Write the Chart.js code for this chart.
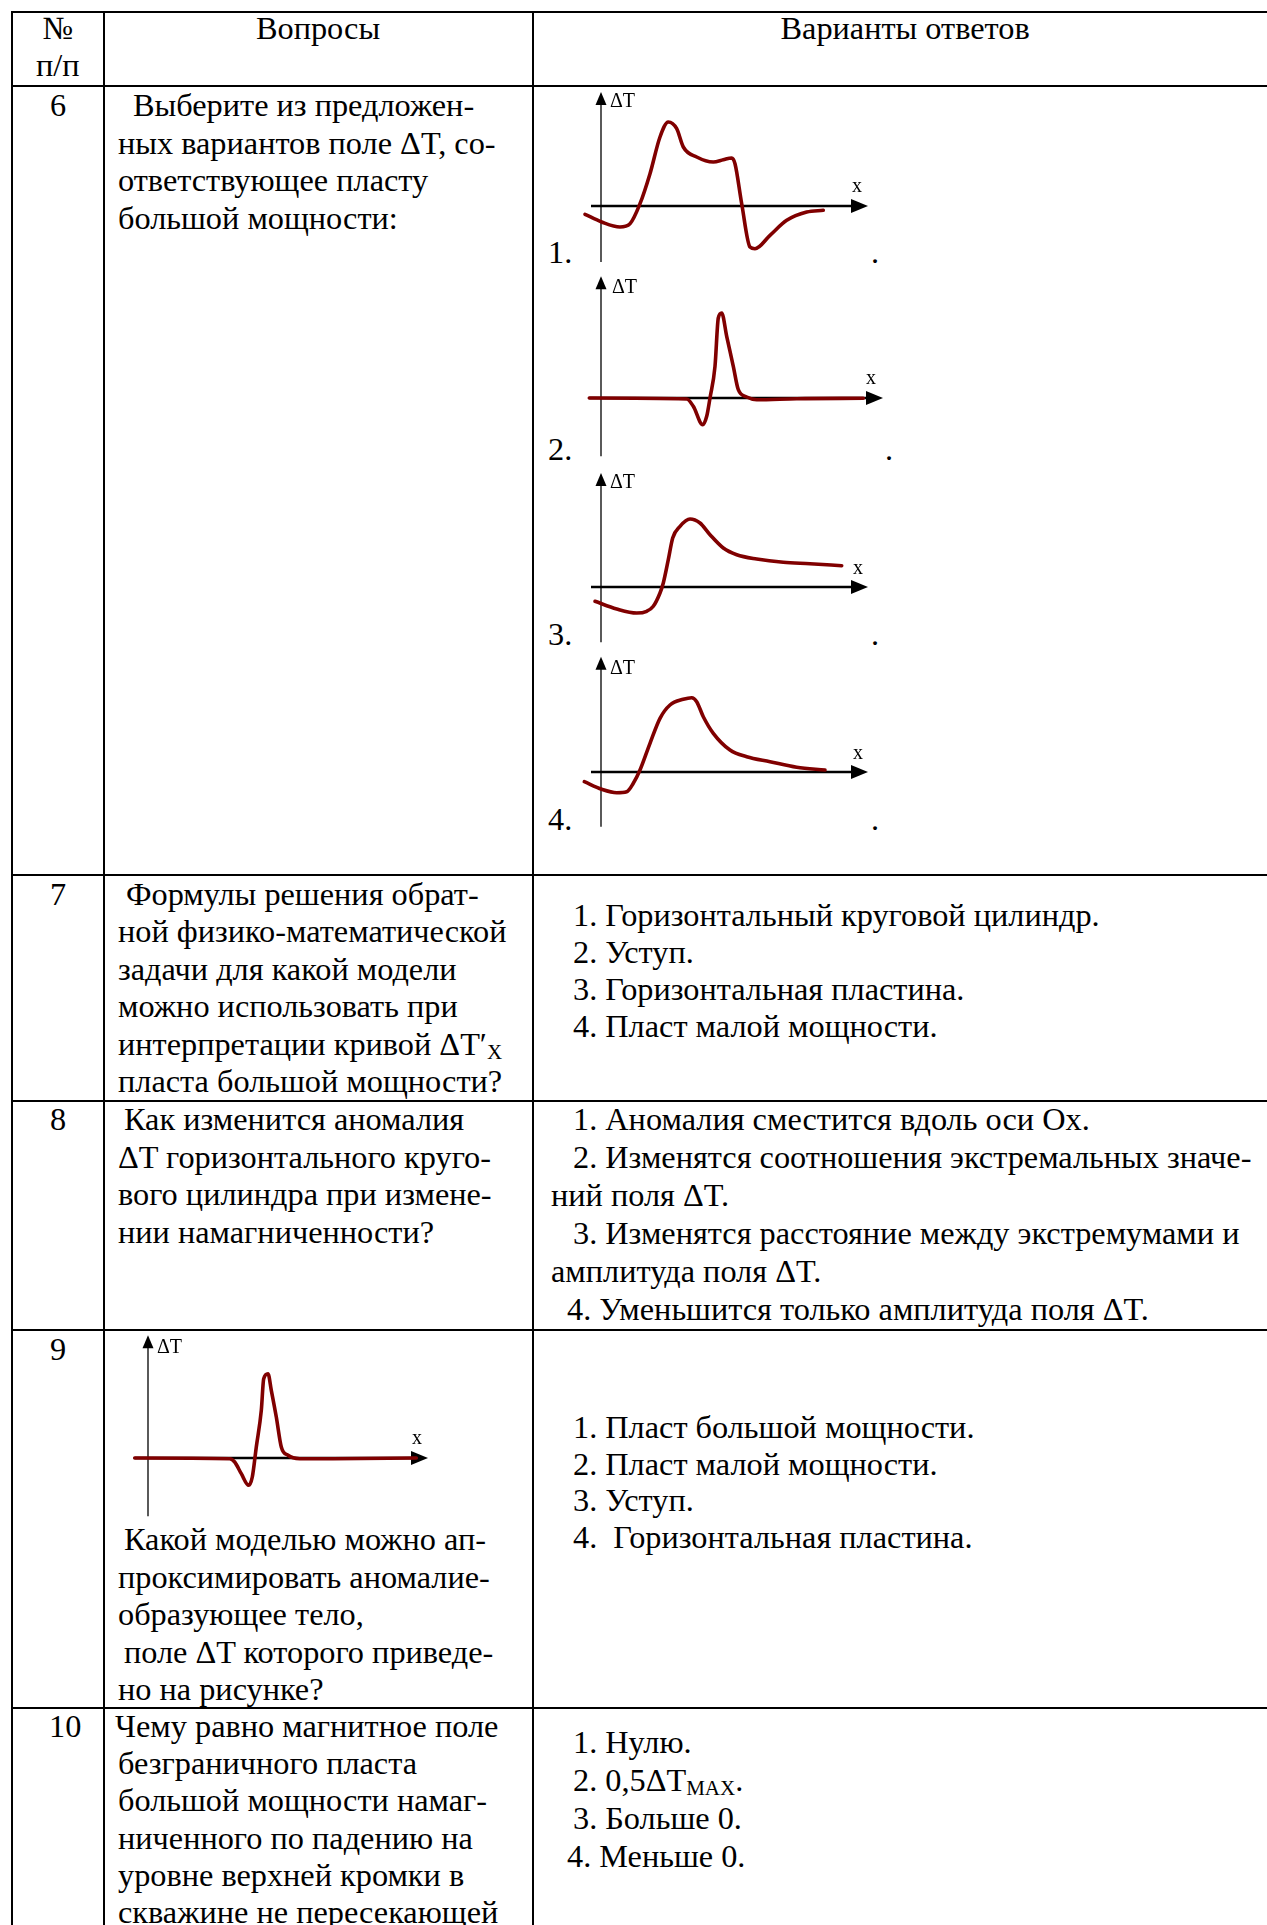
<!DOCTYPE html>
<html><head><meta charset="utf-8">
<script src="https://cdn.jsdelivr.net/npm/chart.js@4.4.1/dist/chart.umd.min.js"></script>
<style>
html,body{margin:0;padding:0;background:#fff;}
#page{position:relative;width:1267px;height:1925px;overflow:hidden;background:#fff;font-family:"Liberation Serif","Times New Roman",serif;color:#000;}
.hl{position:absolute;height:2px;background:#000;}
.vl{position:absolute;width:2px;background:#000;}
.t{position:absolute;white-space:pre;font-size:32.3px;line-height:38px;}
.t sub{font-size:21px;vertical-align:-4px;line-height:0;}
.s{position:absolute;white-space:pre;font-size:20px;line-height:22px;}
canvas{position:absolute;}
</style></head><body><div id="page"></div>
<script>
// ---- curve data (x: along profile, y: ΔT) ----
const curve1X = [-1.6,0.07,1.9,2.9,3.9,4.9,5.9,6.73,7.57,8.23,9.57,11.23,12.23,13.07,13.4,14.07,14.9,15.4,16.9,18.57,20.57,22.23];
const curve1Y = [-0.83,-1.6,-2.1,-1.77,0.23,3.23,6.9,8.4,7.73,5.9,4.9,4.4,4.63,4.8,4.23,0.23,-4.1,-4.27,-2.93,-1.43,-0.6,-0.43];

const curve2X = [-1.17,8.57,9.23,10.17,10.57,10.9,11.4,11.73,12.07,12.57,13.23,13.73,14.57,15.57,19.57,26.23];
const curve2Y = [0,-0.1,-0.83,-2.67,-1.83,0,3.17,8.0,8.5,6.17,3.17,0.83,0.1,-0.17,-0.07,-0.03];

const curve3X = [-0.6,1.57,3.57,4.57,5.23,5.9,6.23,6.73,7.17,7.9,8.9,9.9,10.9,12.23,13.57,15.57,18.23,20.9,24.07];
const curve3Y = [-1.43,-2.2,-2.6,-2.43,-1.93,-0.6,0.4,2.73,4.9,6.07,6.8,6.4,5.23,3.9,3.23,2.8,2.47,2.33,2.13];

const curve4X = [-1.67,0.07,1.57,2.57,3.23,3.9,4.9,5.9,6.9,8.23,9.07,9.57,10.23,11.23,12.9,14.57,16.9,19.57,22.4];
const curve4Y = [-0.97,-1.73,-2.07,-1.97,-1.13,0.2,2.87,5.37,6.7,7.27,7.43,7.03,5.53,3.87,2.2,1.53,1.03,0.47,0.2];

const curve9X = [-1.33,8.17,8.67,9.33,10.07,10.43,10.83,11.33,11.57,12.0,12.33,12.83,13.33,14.0,15.17,18.5,26.83];
const curve9Y = [0,-0.07,-0.4,-1.57,-2.73,-1.9,1.1,4.77,7.93,8.43,6.77,4.1,1.1,0.27,-0.07,-0.07,0];

// axis extents [xFrom, xTo, yFrom, yTo] in the same units
const axes1 = [-1.0,26.7,-5.6,11.4];
const axes2 = [-1.17,28.2,-5.83,12.17];
const axes3 = [-1.0,26.7,-5.53,11.4];
const axes4 = [-1.0,26.7,-5.47,11.53];
const axes9 = [-1.33,28.0,-5.83,12.27];

const page = document.getElementById('page');

// ---- table grid ----
function hl(x,y,w){const d=document.createElement('div');d.className='hl';d.style.left=x+'px';d.style.top=(y-1)+'px';d.style.width=w+'px';page.appendChild(d);}
function vl(x,y,h){const d=document.createElement('div');d.className='vl';d.style.left=(x-1)+'px';d.style.top=y+'px';d.style.height=h+'px';page.appendChild(d);}
[12,86,875,1101,1330,1708].forEach(y=>hl(11,y,1260));
[12,104,533].forEach(x=>vl(x,11,1920));

// ---- text ----
const F=32.3, L=38;
const baseOff = (L-1.107*F)/2 + 0.891*F;
function txt(x, base, html, center){
  const d=document.createElement('div');d.className='t';d.innerHTML=html;
  d.style.top=(base-baseOff)+'px';
  page.appendChild(d);
  if(center){d.style.left=(x-d.offsetWidth/2)+'px';} else d.style.left=x+'px';
}
function small(x, base, s){
  const d=document.createElement('div');d.className='s';d.textContent=s;
  d.style.top=(base-((22-1.107*20)/2+0.891*20))+'px';d.style.left=x+'px';page.appendChild(d);
}
function block(x, base, step, lines){lines.forEach((l,i)=>{let xx=x, s=l; if(Array.isArray(l)){xx=l[0]; s=l[1];} txt(xx, base+i*step, s);});}

// header
txt(58,39,'№',true); txt(58,76,'п/п',true);
txt(318,39,'Вопросы',true); txt(905,39,'Варианты ответов',true);

// row 6
txt(58,116,'6',true);
block(118,116,37.5,[[133,'Выберите из предложен-'],'ных вариантов поле ΔT, со-','ответствующее пласту','большой мощности:']);
txt(548,263,'1.'); txt(871,263,'.');
txt(548,460,'2.'); txt(885,460,'.');
txt(548,645,'3.'); txt(871,645,'.');
txt(548,830,'4.'); txt(871,830,'.');

// row 7
txt(58,905,'7',true);
block(118,905,37.4,[[126,'Формулы решения обрат-'],'ной физико-математической','задачи для какой модели','можно использовать при','интерпретации кривой ΔT′<sub>X</sub>','пласта большой мощности?']);
block(573,926,37,['1. Горизонтальный круговой цилиндр.','2. Уступ.','3. Горизонтальная пластина.','4. Пласт малой мощности.']);

// row 8
txt(58,1130,'8',true);
block(118,1130,37.6,[[124,'Как изменится аномалия'],'ΔT горизонтального круго-','вого цилиндра при измене-','нии намагниченности?']);
block(573,1130,38,['1. Аномалия сместится вдоль оси Ох.','2. Изменятся соотношения экстремальных значе-',[551,'ний поля ΔT.'],'3. Изменятся расстояние между экстремумами и',[551,'амплитуда поля ΔT.'],[567,'4. Уменьшится только амплитуда поля ΔT.']]);

// row 9
txt(58,1360,'9',true);
block(118,1550,37.5,[[124,'Какой моделью можно ап-'],'проксимировать аномалие-','образующее тело,',[124,'поле ΔT которого приведе-'],'но на рисунке?']);
block(573,1438,36.5,['1. Пласт большой мощности.','2. Пласт малой мощности.','3. Уступ.','4.  Горизонтальная пластина.']);

// row 10
txt(65,1737,'10',true);
block(118,1737,37.2,[[115,'Чему равно магнитное поле'],'безграничного пласта','большой мощности намаг-','ниченного по падению на','уровне верхней кромки в','скважине не пересекающей']);
block(573,1753,38,['1. Нулю.','2. 0,5ΔT<sub>MAX</sub>.','3. Больше 0.',[567,'4. Меньше 0.']]);

// ---- charts ----
const arrowAxes = {
  id:'arrowAxes',
  beforeDatasetsDraw(chart, args, opts){
    const {ctx, scales:{x,y}} = chart; const a = opts.ext;
    const ox=x.getPixelForValue(0), oy=y.getPixelForValue(0);
    const xl=x.getPixelForValue(a[0]), xr=x.getPixelForValue(a[1]);
    const yb=y.getPixelForValue(a[2]), yt=y.getPixelForValue(a[3]);
    ctx.save(); ctx.strokeStyle='#000'; ctx.fillStyle='#000';
    ctx.lineWidth=1.3; ctx.beginPath(); ctx.moveTo(ox,yb); ctx.lineTo(ox,yt+10); ctx.stroke();
    ctx.beginPath(); ctx.moveTo(ox,yt); ctx.lineTo(ox-5.5,yt+13); ctx.lineTo(ox+5.5,yt+13); ctx.closePath(); ctx.fill();
    ctx.lineWidth=2.5; ctx.beginPath(); ctx.moveTo(xl,oy); ctx.lineTo(xr-12,oy); ctx.stroke();
    ctx.beginPath(); ctx.moveTo(xr,oy); ctx.lineTo(xr-17,oy-7); ctx.lineTo(xr-17,oy+7); ctx.closePath(); ctx.fill();
    ctx.restore();
  }
};
function makeChart(ox, oy, xs, ys, ext){
  const U=10, xmin=-2.5, xmax=30, ymin=-7, ymax=13.5;
  const w=(xmax-xmin)*U, h=(ymax-ymin)*U;
  const c=document.createElement('canvas');
  c.width=w; c.height=h;
  c.style.left=(ox+xmin*U)+'px'; c.style.top=(oy-ymax*U)+'px';
  c.style.width=w+'px'; c.style.height=h+'px';
  page.appendChild(c);
  new Chart(c,{
    type:'line',
    data:{datasets:[{data:xs.map((v,i)=>({x:v,y:ys[i]})),borderColor:'#800000',borderWidth:3.6,pointRadius:0,
      cubicInterpolationMode:'monotone',fill:false,clip:false,borderCapStyle:'round',borderJoinStyle:'round'}]},
    options:{responsive:false,animation:false,events:[],layout:{padding:0},
      plugins:{legend:{display:false},tooltip:{enabled:false},arrowAxes:{ext}},
      scales:{x:{type:'linear',min:xmin,max:xmax,display:false},y:{type:'linear',min:ymin,max:ymax,display:false}}},
    plugins:[arrowAxes]
  });
}
makeChart(601,205.7,curve1X,curve1Y,axes1);
makeChart(601,398.3,curve2X,curve2Y,axes2);
makeChart(601,587.3,curve3X,curve3Y,axes3);
makeChart(601,772,curve4X,curve4Y,axes4);
makeChart(148.3,1457.7,curve9X,curve9Y,axes9);

// axis labels
small(610,107,'ΔT'); small(852,192,'x');
small(612,293,'ΔT'); small(866,384,'x');
small(610,488,'ΔT'); small(853,574,'x');
small(610,674,'ΔT'); small(853,759,'x');
small(157,1353,'ΔT'); small(412,1444,'x');
</script>
</body></html>
